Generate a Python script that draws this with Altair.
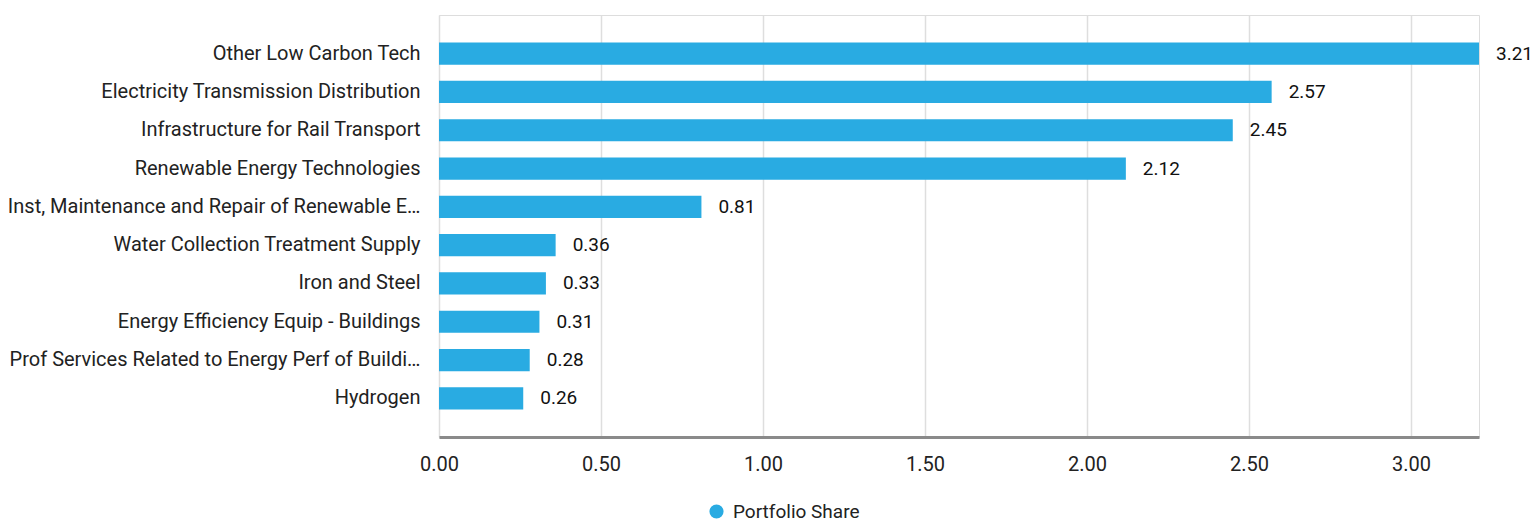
import altair as alt
import pandas as pd

categories = [
    "Other Low Carbon Tech",
    "Electricity Transmission Distribution",
    "Infrastructure for Rail Transport",
    "Renewable Energy Technologies",
    "Inst, Maintenance and Repair of Renewable E…",
    "Water Collection Treatment Supply",
    "Iron and Steel",
    "Energy Efficiency Equip - Buildings",
    "Prof Services Related to Energy Perf of Buildi…",
    "Hydrogen",
]
values = [3.21, 2.57, 2.45, 2.12, 0.81, 0.36, 0.33, 0.31, 0.28, 0.26]
series = "Portfolio Share"
x_ticks = [0, 0.5, 1.0, 1.5, 2.0, 2.5, 3.0]

df = pd.DataFrame({"category": categories, "value": values, "series": series})

FONT = "Roboto"
BAR = "#29abe2"

y_enc = alt.Y(
    "category:N",
    sort=categories,
    title=None,
    scale=alt.Scale(paddingInner=0.42, paddingOuter=0.72),
    axis=alt.Axis(
        labelFont=FONT, labelFontSize=20, labelColor="#222222",
        labelPadding=19, ticks=False, domain=False, grid=False,
        labelLimit=600,
    ),
)
x_enc = alt.X(
    "value:Q",
    title=None,
    scale=alt.Scale(domain=[0, 3.21], nice=False, zero=True),
    axis=alt.Axis(
        values=x_ticks, format=".2f",
        labelFont=FONT, labelFontSize=20, labelColor="#222222",
        labelPadding=17, ticks=False,
        domainColor="#8a8a8a", domainWidth=3,
        grid=True, gridColor="#dedede", gridWidth=1.5,
        labelFlush=False,
    ),
)

bars = alt.Chart(df).mark_bar().encode(
    x=x_enc,
    y=y_enc,
    color=alt.Color(
        "series:N",
        scale=alt.Scale(range=[BAR]),
        legend=alt.Legend(
            title=None, orient="none", legendX=268, legendY=487,
            symbolType="circle", symbolSize=200, symbolStrokeWidth=0,
            labelFont=FONT, labelFontSize=19, labelColor="#222222",
            labelOffset=7,
        ),
    ),
)

labels = alt.Chart(df).mark_text(
    align="left", baseline="middle", dx=17, font=FONT, fontSize=19, color="#111111"
).encode(
    x="value:Q",
    y=alt.Y("category:N", sort=categories),
    text=alt.Text("value:Q", format=".2f"),
)

chart = (
    alt.layer(bars, labels)
    .properties(
        width=1040, height=422,
        padding={"left": 439, "top": 15, "right": 54, "bottom": 86},
        autosize=alt.AutoSizeParams(type="none"),
    )
    .configure_view(stroke=None)
    .configure(background="white")
)

chart.save("out.html", embed_options={"renderer": "svg", "actions": False})
